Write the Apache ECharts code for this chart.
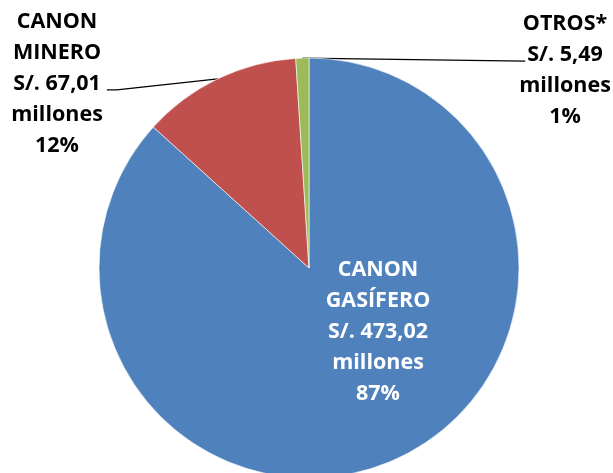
<!DOCTYPE html>
<html><head><meta charset="utf-8">
<script src="https://cdn.jsdelivr.net/npm/echarts@6/dist/echarts.min.js"></script>
<style>html,body{margin:0;padding:0;background:#fff}#c{width:613px;height:473px}</style>
</head><body><div id="c"></div>
<script>
const categories = ['CANON GASÍFERO', 'CANON MINERO', 'OTROS*'];
const values = [473.02, 67.01, 5.49];
const colors = ['#4F81BD', '#C0504D', '#9BBB59'];

const chart = echarts.init(document.getElementById('c'), null, {renderer: 'canvas'});
const labelPos = [
  {x: 378, y: 332, color: '#ffffff'},
  {x: 57, y: 84, color: '#000000'},
  {x: 565, y: 70, color: '#000000'}
];
const data = categories.map((n, i) => ({
  name: n, value: values[i],
  itemStyle: {color: colors[i]},
  label: {color: labelPos[i].color},
  labelLine: {show: i !== 0}
}));
chart.setOption({
  animation: false,
  series: [{
    type: 'pie',
    center: [309, 268],
    radius: [0, 210],
    startAngle: 90,
    clockwise: true,
    data: data,
    itemStyle: {borderColor: '#ffffff', borderWidth: 0.6},
    label: {
      show: true,
      position: 'outside',
      overflow: 'none',
      fontFamily: 'Open Sans',
      fontWeight: 'bold',
      fontSize: 21.5,
      lineHeight: 31,
      align: 'center',
      formatter: p => p.name.replace(' ', '\n') + '\nS/. ' + p.value.toFixed(2).replace('.', ',') + '\nmillones\n' + Math.round(p.percent) + '%'
    },
    labelLine: {show: true, lineStyle: {color: '#000', width: 1.3}},
    labelLayout: p => {
      const i = p.dataIndex;
      const pos = labelPos[i];
      const res = {x: pos.x, y: pos.y, align: 'center', verticalAlign: 'middle'};
      const pts = p.labelLinePoints;
      if (pts && i > 0) {
        const a = pts[0];
        const w = p.labelRect.width;
        if (i === 1) {
          const ex = pos.x + w / 2 + 4;
          res.labelLinePoints = [a, [ex + 10, a[1] + 11], [ex, a[1] + 11]];
        } else {
          const ex = pos.x - w / 2 + 6;
          res.labelLinePoints = [a, [ex, a[1] + 3]];
        }
      }
      return res;
    }
  }]
});
</script></body></html>
